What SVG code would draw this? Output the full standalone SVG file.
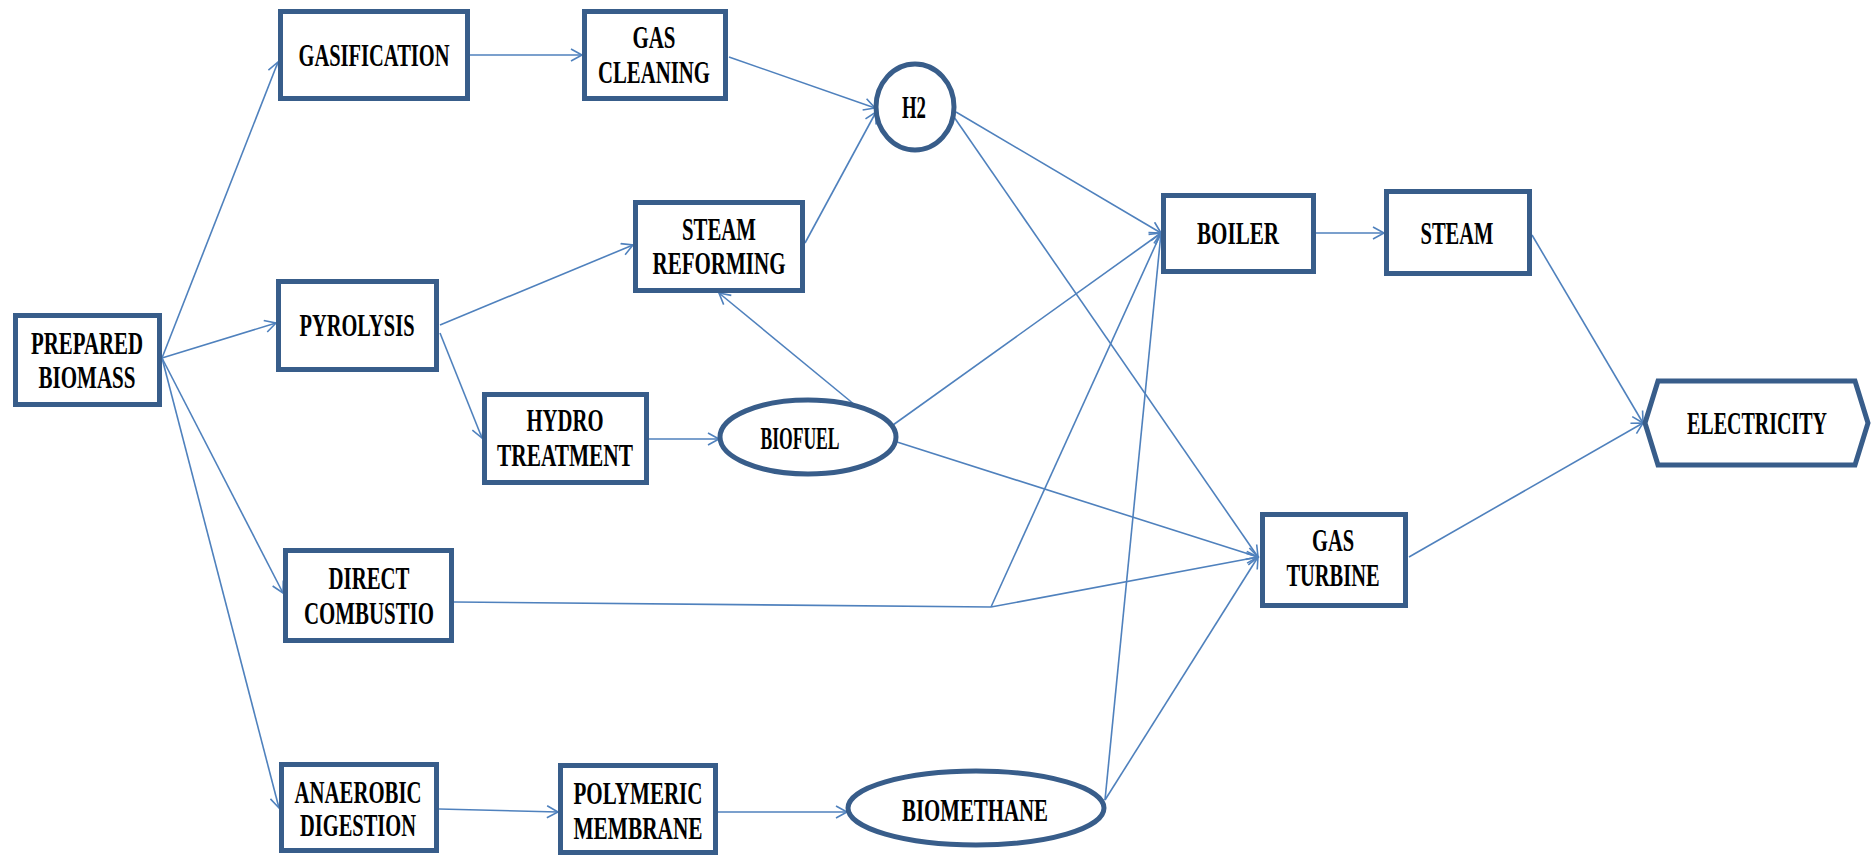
<svg xmlns="http://www.w3.org/2000/svg" width="1872" height="857" viewBox="0 0 1872 857">
<style>
.box{fill:#fff;stroke:#385d8a;stroke-width:5}
.ln{fill:none;stroke:#4f81bd;stroke-width:1.6}
.t{font-family:"Liberation Serif","Times New Roman",serif;font-weight:bold;font-size:31px;fill:#000;text-anchor:middle}
</style>
<defs>
<marker id="ar" markerUnits="userSpaceOnUse" markerWidth="14" markerHeight="14" refX="12" refY="7" orient="auto">
<path d="M1,1 L12,7 L1,13" fill="none" stroke="#4f81bd" stroke-width="1.6"/>
</marker>
</defs>
<rect width="1872" height="857" fill="#fff"/>
<g id="connectors">
<path class="ln" marker-end="url(#ar)" d="M162,358 L278,62"/>
<path class="ln" marker-end="url(#ar)" d="M162,358 L276,323"/>
<path class="ln" marker-end="url(#ar)" d="M162,358 L283,593"/>
<path class="ln" marker-end="url(#ar)" d="M162,358 L279,808"/>
<path class="ln" marker-end="url(#ar)" d="M470,55 L582,55"/>
<path class="ln" marker-end="url(#ar)" d="M729,57 L875,108"/>
<path class="ln" marker-end="url(#ar)" d="M440,325 L633,245"/>
<path class="ln" marker-end="url(#ar)" d="M440,333 L482,438"/>
<path class="ln" marker-end="url(#ar)" d="M649,439 L719,439"/>
<path class="ln" marker-end="url(#ar)" d="M855,405 L719,293"/>
<path class="ln" marker-end="url(#ar)" d="M805,243 L876,112"/>
<path class="ln" marker-end="url(#ar)" d="M956,112 L1161,233"/>
<path class="ln" marker-end="url(#ar)" d="M954,117 L1258,557"/>
<path class="ln" marker-end="url(#ar)" d="M893,425 L1161,233"/>
<path class="ln" marker-end="url(#ar)" d="M897,442 L1258,557"/>
<path class="ln" d="M454,602 L991,607"/>
<path class="ln" marker-end="url(#ar)" d="M991,607 L1161,233"/>
<path class="ln" marker-end="url(#ar)" d="M991,607 L1258,557"/>
<path class="ln" marker-end="url(#ar)" d="M439,809 L558,812"/>
<path class="ln" marker-end="url(#ar)" d="M718,812 L847,812"/>
<path class="ln" marker-end="url(#ar)" d="M1105,800 L1161,233"/>
<path class="ln" marker-end="url(#ar)" d="M1105,800 L1258,557"/>
<path class="ln" marker-end="url(#ar)" d="M1316,233 L1384,233"/>
<path class="ln" marker-end="url(#ar)" d="M1532,235 L1643,423"/>
<path class="ln" marker-end="url(#ar)" d="M1409,557 L1643,423"/>
</g>
<g id="prepared-biomass">
<rect class="box" x="15.5" y="315.5" width="144" height="89"/>
<text class="t" x="87" y="354" textLength="112" lengthAdjust="spacingAndGlyphs">PREPARED</text>
<text class="t" x="87" y="388" textLength="97" lengthAdjust="spacingAndGlyphs">BIOMASS</text>
</g>
<g id="gasification">
<rect class="box" x="280.5" y="11.5" width="187" height="87"/>
<text class="t" x="374" y="66" textLength="151" lengthAdjust="spacingAndGlyphs">GASIFICATION</text>
</g>
<g id="gas-cleaning">
<rect class="box" x="584.5" y="11.5" width="141" height="87"/>
<text class="t" x="654" y="48" textLength="43" lengthAdjust="spacingAndGlyphs">GAS</text>
<text class="t" x="654" y="83" textLength="112" lengthAdjust="spacingAndGlyphs">CLEANING</text>
</g>
<g id="steam-reforming">
<rect class="box" x="635.5" y="202.5" width="167" height="88"/>
<text class="t" x="719" y="240" textLength="74" lengthAdjust="spacingAndGlyphs">STEAM</text>
<text class="t" x="719" y="274" textLength="133" lengthAdjust="spacingAndGlyphs">REFORMING</text>
</g>
<g id="pyrolysis">
<rect class="box" x="278.5" y="281.5" width="158" height="88"/>
<text class="t" x="357" y="336" textLength="115" lengthAdjust="spacingAndGlyphs">PYROLYSIS</text>
</g>
<g id="hydro-treatment">
<rect class="box" x="484.5" y="394.5" width="162" height="88"/>
<text class="t" x="565" y="431" textLength="77" lengthAdjust="spacingAndGlyphs">HYDRO</text>
<text class="t" x="565" y="466" textLength="136" lengthAdjust="spacingAndGlyphs">TREATMENT</text>
</g>
<g id="direct-combustion">
<rect class="box" x="285.5" y="550.5" width="166" height="90"/>
<text class="t" x="369" y="589" textLength="81" lengthAdjust="spacingAndGlyphs">DIRECT</text>
<text class="t" x="369" y="624" textLength="130" lengthAdjust="spacingAndGlyphs">COMBUSTIO</text>
</g>
<g id="anaerobic-digestion">
<rect class="box" x="281.5" y="764.5" width="155" height="86"/>
<text class="t" x="358" y="803" textLength="127" lengthAdjust="spacingAndGlyphs">ANAEROBIC</text>
<text class="t" x="358" y="836" textLength="116" lengthAdjust="spacingAndGlyphs">DIGESTION</text>
</g>
<g id="polymeric-membrane">
<rect class="box" x="560.5" y="765.5" width="155" height="87"/>
<text class="t" x="638" y="804" textLength="129" lengthAdjust="spacingAndGlyphs">POLYMERIC</text>
<text class="t" x="638" y="839" textLength="129" lengthAdjust="spacingAndGlyphs">MEMBRANE</text>
</g>
<g id="h2">
<ellipse class="box" cx="915" cy="107" rx="39" ry="43"/>
<text class="t" x="914" y="118" textLength="24" lengthAdjust="spacingAndGlyphs">H2</text>
</g>
<g id="biofuel">
<ellipse class="box" cx="808" cy="437" rx="88" ry="37"/>
<text class="t" x="800" y="449" textLength="79" lengthAdjust="spacingAndGlyphs">BIOFUEL</text>
</g>
<g id="biomethane">
<ellipse class="box" cx="976" cy="808" rx="128" ry="37"/>
<text class="t" x="975" y="821" textLength="146" lengthAdjust="spacingAndGlyphs">BIOMETHANE</text>
</g>
<g id="boiler">
<rect class="box" x="1163.5" y="195.5" width="150" height="76"/>
<text class="t" x="1238" y="244" textLength="82" lengthAdjust="spacingAndGlyphs">BOILER</text>
</g>
<g id="steam">
<rect class="box" x="1386.5" y="191.5" width="143" height="82"/>
<text class="t" x="1457" y="244" textLength="73" lengthAdjust="spacingAndGlyphs">STEAM</text>
</g>
<g id="gas-turbine">
<rect class="box" x="1262.5" y="514.5" width="143" height="91"/>
<text class="t" x="1333" y="551" textLength="42" lengthAdjust="spacingAndGlyphs">GAS</text>
<text class="t" x="1333" y="586" textLength="93" lengthAdjust="spacingAndGlyphs">TURBINE</text>
</g>
<g id="electricity">
<polygon class="box" points="1645,423 1658,381 1855,381 1868,423 1855,465 1658,465"/>
<text class="t" x="1757" y="434" textLength="140" lengthAdjust="spacingAndGlyphs">ELECTRICITY</text>
</g>
</svg>
